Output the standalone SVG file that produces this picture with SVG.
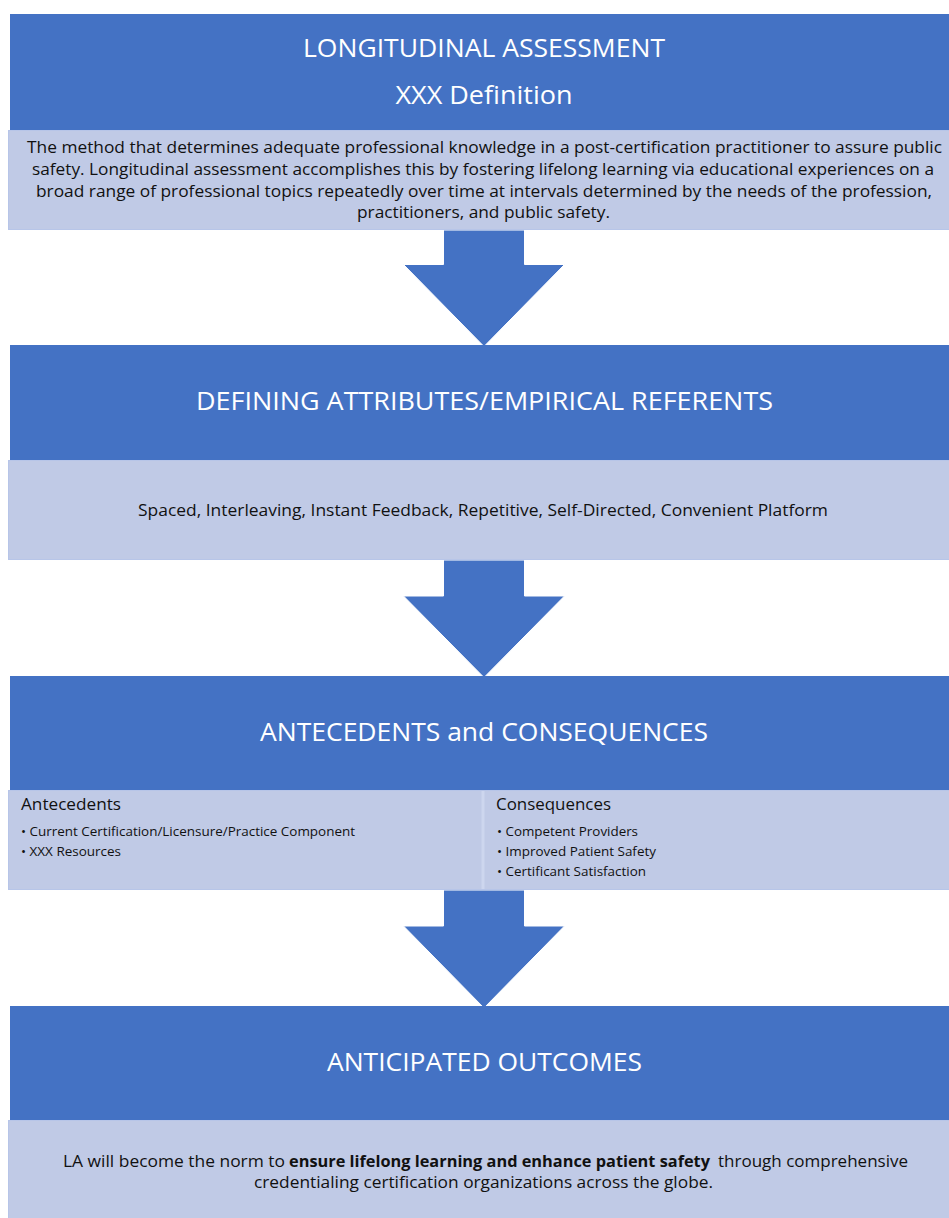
<svg xmlns="http://www.w3.org/2000/svg" width="949" height="1218" viewBox="0 0 949 1218">
<style>
.hdr{fill:#4472C4;}
.lt{fill:#C0CAE6;stroke:#B7C5E8;stroke-width:1;}
.arr{fill:#4472C4;stroke:#FFFFFF;stroke-width:1;}
.ttl{font-family:"Open Sans","Noto Sans",sans-serif;fill:#FFFFFF;font-size:26px;}
.body{font-family:"Open Sans","Noto Sans",sans-serif;fill:#111111;font-size:16.5px;}
.sub{font-family:"Open Sans","Noto Sans",sans-serif;fill:#111111;font-size:16px;}
.bul{font-family:"Open Sans","Noto Sans",sans-serif;fill:#111111;font-size:13px;}
</style>
<rect width="949" height="1218" fill="#FFFFFF"/>
<g id="connectors">
<path class="arr" d="M443.5,230 L524.5,230 L524.5,264.5 L564.5,264.5 L484,346.5 L403.5,264.5 L443.5,264.5 Z"/>
<path class="arr" d="M443.5,560 L524.5,560 L524.5,596 L564.5,596 L484,677.5 L403.5,596 L443.5,596 Z"/>
<path class="arr" d="M443.5,890 L524.5,890 L524.5,926 L564.5,926 L484,1008 L403.5,926 L443.5,926 Z"/>
</g>
<g id="node-definition">
<rect class="hdr" x="10" y="14" width="939" height="116"/>
<rect class="lt" x="8.5" y="130.5" width="941" height="99"/>
<text class="ttl" x="484" y="57" text-anchor="middle" textLength="362" lengthAdjust="spacingAndGlyphs">LONGITUDINAL ASSESSMENT</text>
<text class="ttl" x="484" y="104" text-anchor="middle" textLength="177" lengthAdjust="spacingAndGlyphs">XXX Definition</text>
<text class="body" x="27" y="153" textLength="915" lengthAdjust="spacingAndGlyphs">The method that determines adequate professional knowledge in a post-certification practitioner to assure public</text>
<text class="body" x="32" y="175" textLength="902" lengthAdjust="spacingAndGlyphs">safety. Longitudinal assessment accomplishes this by fostering lifelong learning via educational experiences on a</text>
<text class="body" x="36" y="197" textLength="896" lengthAdjust="spacingAndGlyphs">broad range of professional topics repeatedly over time at intervals determined by the needs of the profession,</text>
<text class="body" x="357" y="218" textLength="253" lengthAdjust="spacingAndGlyphs">practitioners, and public safety.</text>
</g>
<g id="node-attributes">
<rect class="hdr" x="10" y="345" width="939" height="115"/>
<rect class="lt" x="8.5" y="460.5" width="941" height="99"/>
<text class="ttl" x="484.5" y="410" text-anchor="middle" textLength="577" lengthAdjust="spacingAndGlyphs">DEFINING ATTRIBUTES/EMPIRICAL REFERENTS</text>
<text class="body" x="138" y="516" textLength="690" lengthAdjust="spacingAndGlyphs">Spaced, Interleaving, Instant Feedback, Repetitive, Self-Directed, Convenient Platform</text>
</g>
<g id="node-antecedents-consequences">
<rect class="hdr" x="10" y="676" width="939" height="114"/>
<rect class="lt" x="8.5" y="790.5" width="941" height="99"/>
<line x1="483" y1="791" x2="483" y2="889" stroke="#CDD6EE" stroke-width="3"/>
<text class="ttl" x="484" y="741" text-anchor="middle" textLength="448" lengthAdjust="spacingAndGlyphs">ANTECEDENTS and CONSEQUENCES</text>
<text class="sub" x="21" y="810" textLength="100" lengthAdjust="spacingAndGlyphs">Antecedents</text>
<text class="bul" x="21" y="836" textLength="334" lengthAdjust="spacingAndGlyphs">• Current Certification/Licensure/Practice Component</text>
<text class="bul" x="21" y="856" textLength="100" lengthAdjust="spacingAndGlyphs">• XXX Resources</text>
<text class="sub" x="496" y="810" textLength="115" lengthAdjust="spacingAndGlyphs">Consequences</text>
<text class="bul" x="497" y="836" textLength="141" lengthAdjust="spacingAndGlyphs">• Competent Providers</text>
<text class="bul" x="497" y="856" textLength="159" lengthAdjust="spacingAndGlyphs">• Improved Patient Safety</text>
<text class="bul" x="497" y="876" textLength="149" lengthAdjust="spacingAndGlyphs">• Certificant Satisfaction</text>
</g>
<g id="node-outcomes">
<rect class="hdr" x="10" y="1006" width="939" height="114"/>
<rect class="lt" x="8.5" y="1120.5" width="941" height="98"/>
<text class="ttl" x="484.5" y="1071" text-anchor="middle" textLength="315" lengthAdjust="spacingAndGlyphs">ANTICIPATED OUTCOMES</text>
<text class="body" x="63" y="1167" textLength="222" lengthAdjust="spacingAndGlyphs">LA will become the norm to</text>
<text class="body" x="289" y="1167" font-weight="bold" textLength="421" lengthAdjust="spacingAndGlyphs">ensure lifelong learning and enhance patient safety</text>
<text class="body" x="718" y="1167" textLength="190" lengthAdjust="spacingAndGlyphs">through comprehensive</text>
<text class="body" x="254" y="1188" textLength="459" lengthAdjust="spacingAndGlyphs">credentialing certification organizations across the globe.</text>
</g>
</svg>
